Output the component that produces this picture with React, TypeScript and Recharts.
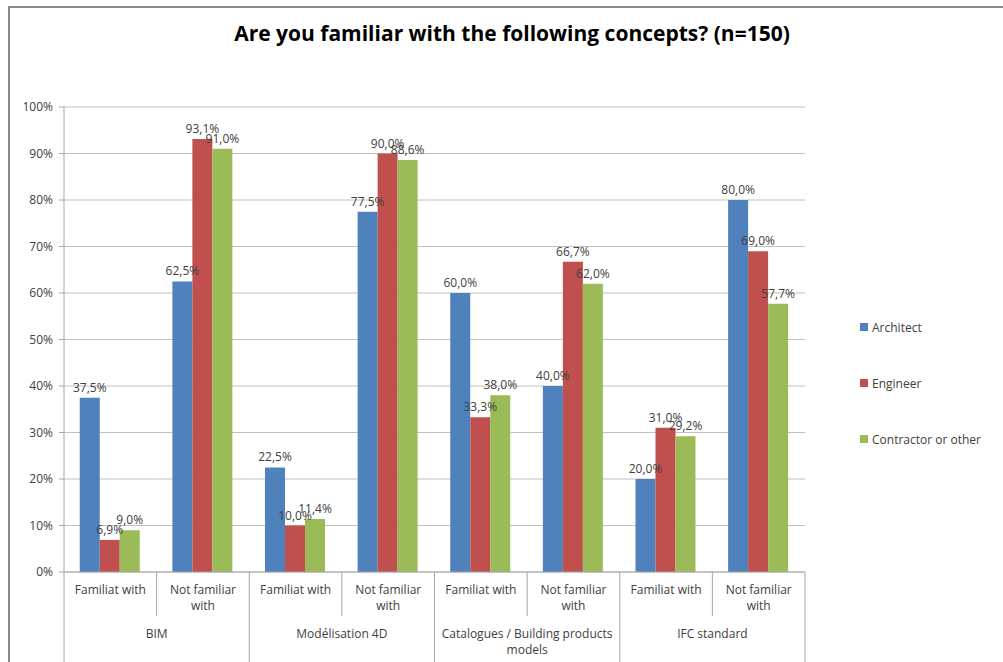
import { BarChart, Bar, XAxis, YAxis, CartesianGrid, LabelList } from "recharts";

const groups = ["BIM", "Modélisation 4D", "Catalogues / Building products\nmodels", "IFC standard"];
const answers = ["Familiat with", "Not familiar\nwith"];

const architect = [37.5, 62.5, 22.5, 77.5, 60.0, 40.0, 20.0, 80.0];
const engineer = [6.9, 93.1, 10.0, 90.0, 33.3, 66.7, 31.0, 69.0];
const contractor = [9.0, 91.0, 11.4, 88.6, 38.0, 62.0, 29.2, 57.7];

const yTicks = [0, 10, 20, 30, 40, 50, 60, 70, 80, 90, 100];

const seriesList = [
  { key: "architect", name: "Architect", color: "#4f81bd" },
  { key: "engineer", name: "Engineer", color: "#c0504d" },
  { key: "contractor", name: "Contractor or other", color: "#9bbb59" },
];

const data = architect.map((_, i) => ({
  key: `${Math.floor(i / 2)}-${i % 2}`,
  architect: architect[i],
  engineer: engineer[i],
  contractor: contractor[i],
}));

const W = 1003;
const H = 662;
const PLOT_LEFT = 64;
const PLOT_RIGHT = 805;
const PLOT_TOP = 107;
const PLOT_BOTTOM = 572;
const BAND = (PLOT_RIGHT - PLOT_LEFT) / data.length;
const FONT = "'Open Sans', sans-serif";
const TEXT = "#404040";
const LINE = "#a6a6a6";

const fmt = (v: number) => `${v.toFixed(1).replace(".", ",")}%`;

const CategoryTick = (props: any) => {
  const { x, payload } = props;
  const i = payload.index;
  const left = x - BAND / 2;
  const right = x + BAND / 2;
  const subLines = answers[i % 2].split("\n");
  const groupLines = groups[Math.floor(i / 2)].split("\n");
  return (
    <g>
      <line x1={left} x2={left} y1={PLOT_BOTTOM} y2={i % 2 === 0 ? H : 616} stroke={LINE} />
      {i === data.length - 1 && <line x1={right} x2={right} y1={PLOT_BOTTOM} y2={H} stroke={LINE} />}
      {subLines.map((t, k) => (
        <text key={k} x={x} y={594 + k * 16} textAnchor="middle" fontSize={12} fill={TEXT} fontFamily={FONT}>
          {t}
        </text>
      ))}
      {i % 2 === 0 &&
        groupLines.map((t, k) => (
          <text key={`g${k}`} x={right} y={638 + k * 16} textAnchor="middle" fontSize={12} fill={TEXT} fontFamily={FONT}>
            {t}
          </text>
        ))}
    </g>
  );
};

export default function App() {
  return (
    <div style={{ position: "absolute", left: 0, top: 0, width: W, height: H, background: "#fff", overflow: "hidden" }}>
      <div
        style={{
          position: "absolute",
          left: 8,
          top: 6,
          width: W,
          height: H,
          borderLeft: "2px solid #8a8a8a",
          borderTop: "2px solid #8a8a8a",
        }}
      />
      <div
        style={{
          position: "absolute",
          left: 0,
          width: 1024,
          top: 19,
          textAlign: "center",
          fontFamily: FONT,
          fontWeight: 700,
          fontSize: 21,
          color: "#000",
        }}
      >
        Are you familiar with the following concepts? (n=150)
      </div>
      <div style={{ position: "absolute", left: 860, top: 299, fontFamily: FONT, fontSize: 12, color: TEXT }}>
        {seriesList.map((s) => (
          <div key={s.key} style={{ display: "flex", alignItems: "center", height: 56 }}>
            <span style={{ width: 8, height: 8, background: s.color, marginRight: 4, display: "inline-block" }} />
            <span>{s.name}</span>
          </div>
        ))}
      </div>
      <div style={{ position: "absolute", left: 0, top: 0 }}>
        <BarChart
          width={W}
          height={H}
          data={data}
          margin={{ top: PLOT_TOP, right: W - PLOT_RIGHT, bottom: 0, left: 14 }}
          barCategoryGap="17%"
          barGap={0}
        >
          <CartesianGrid vertical={false} stroke="#c0c0c0" />
          <XAxis
            dataKey="key"
            interval={0}
            tick={<CategoryTick />}
            tickLine={false}
            axisLine={{ stroke: LINE }}
            height={H - PLOT_BOTTOM}
          />
          <YAxis
            width={50}
            domain={[0, 100]}
            ticks={yTicks}
            tickFormatter={(v: number) => `${v}%`}
            tick={{ fontSize: 12, fill: TEXT, fontFamily: FONT }}
            tickLine={{ stroke: LINE }}
            tickSize={5}
            tickMargin={6}
            axisLine={{ stroke: LINE }}
          />
          {seriesList.map((s) => (
            <Bar key={s.key} dataKey={s.key} name={s.name} fill={s.color} isAnimationActive={false}>
              <LabelList
                dataKey={s.key}
                position="top"
                offset={6}
                formatter={(v: any) => fmt(Number(v))}
                style={{ fontSize: 12, fill: TEXT, fontFamily: FONT }}
              />
            </Bar>
          ))}
        </BarChart>
      </div>
    </div>
  );
}
